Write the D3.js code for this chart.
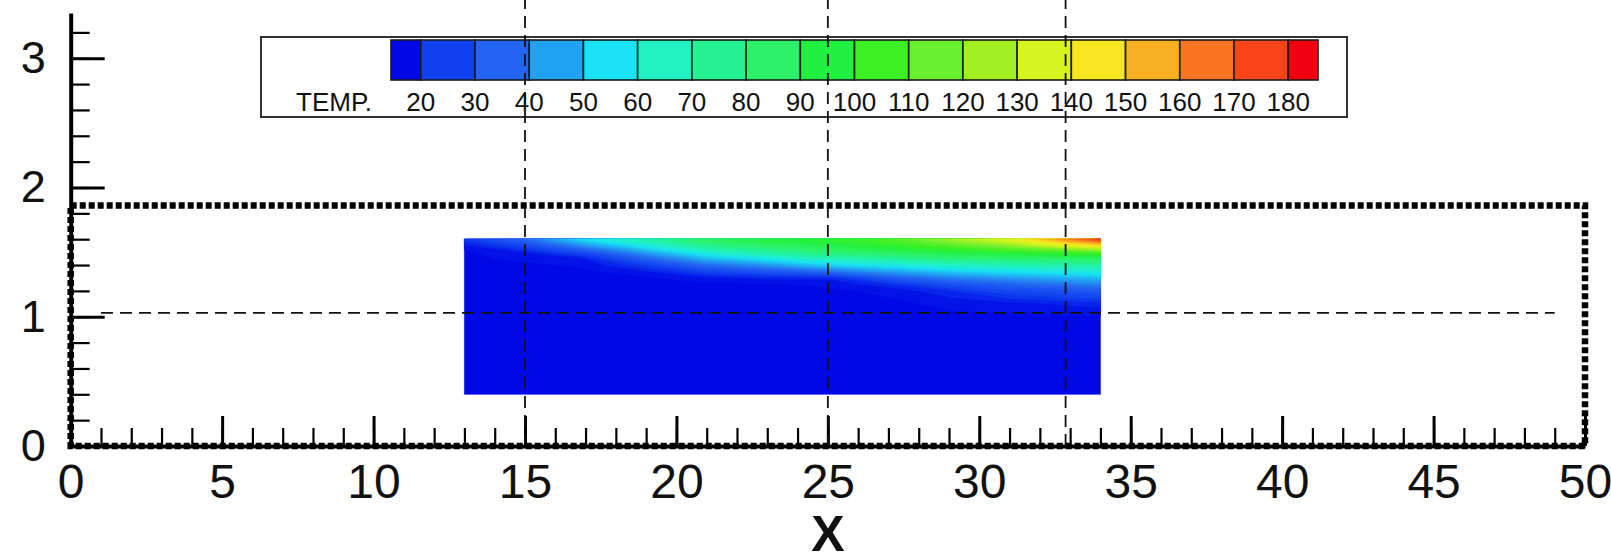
<!DOCTYPE html>
<html>
<head>
<meta charset="utf-8">
<script src="https://cdn.jsdelivr.net/npm/d3@7"></script>
<style>
  body { margin: 0; background: #fff; }
  svg { display: block; font-family: "Liberation Sans", Arial, sans-serif; }
</style>
</head>
<body>
<div id="chart"></div>
<script>
// chart size
const width = 1611
const height = 555

// temperature field: grid columns (X) and rows (Y)
const gridX = [13, 15, 17, 19, 21, 23, 25, 27, 29, 31, 33, 34]
const gridY = [0.4, 1.0, 1.1, 1.2, 1.25, 1.3, 1.35, 1.4, 1.45, 1.5, 1.55, 1.6]

const tempRows = [
  [17, 17, 17, 17, 17, 17, 17, 17, 17, 17, 17, 17],
  [17, 17, 17, 17, 17, 17, 17, 17, 17, 17, 17, 17],
  [17, 17, 17, 17, 17, 17, 17, 17, 18, 19, 20.5, 21],
  [17, 17, 17, 17, 17, 17, 17, 18, 22, 27, 30, 32],
  [17, 17, 17, 17, 17, 17, 18, 21.5, 29, 34, 38, 40],
  [17, 17, 17, 17, 19, 20.5, 20.5, 31, 39, 43, 47, 49],
  [17, 17, 17, 19.5, 26, 30, 36, 44, 51, 55, 58, 60],
  [17, 17, 18, 25, 36, 43, 52, 58, 64, 67, 70, 72],
  [17, 18, 20, 34, 48, 57, 66, 72, 80, 83, 85, 87],
  [17, 20, 29, 45, 62, 72, 82, 88, 95, 100, 106, 110],
  [19, 27, 42, 58, 76, 85, 92, 100, 110, 121, 138, 145],
  [24, 36, 56, 71, 88, 95, 100, 110, 124, 139, 163, 176]
]

// legend
const legendTitle = "TEMP."
const legendLevels = [20, 30, 40, 50, 60, 70, 80, 90, 100, 110, 120, 130, 140, 150, 160, 170, 180]
const legendRange = [14.5, 185.5]
const legendColors = ["#0008e6", "#1040f0", "#2464f2", "#22a2f2", "#18e2f4", "#22f2c2",
  "#24f292", "#2cf26a", "#22f040", "#3cf024", "#68f030", "#a2f024", "#d6f420",
  "#f8e620", "#f8b022", "#f87420", "#f84418", "#f00010"]

// axes
const xTickValues = [0, 5, 10, 15, 20, 25, 30, 35, 40, 45, 50]
const yTickValues = [0, 1, 2, 3]
const xTitle = "X"

// reference geometry drawn over the plot
const boxX = [0, 50]
const boxY = [0, 1.86]
const vLinesX = [15, 25, 32.85]
const hLineY = 1.03
const hLineX = [1, 49]

const svg = d3.select("#chart")
  .append("svg")
  .attr("width", width)
  .attr("height", height)

const x = d3.scaleLinear().domain([0, 50]).range([70.7, 1585])
const y = d3.scaleLinear().domain([0, 3.35]).range([446, 13])

// ---- flood contours ----
const nx = gridX.length
const ny = gridY.length
const values = tempRows.flat()

// grid index space -> data space (samples sit at cell centres)
const gx = d3.scaleLinear()
  .domain([0, ...d3.range(nx).map(i => i + 0.5), nx])
  .range([gridX[0], ...gridX, gridX[nx - 1]])
const gy = d3.scaleLinear()
  .domain([0, ...d3.range(ny).map(j => j + 0.5), ny])
  .range([gridY[0], ...gridY, gridY[ny - 1]])

const proj = d3.geoTransform({
  point: function(px, py) {
    this.stream.point(x(gx(px)), y(gy(py)))
  }
})
const path = d3.geoPath(proj)

const cellCenters = [(legendRange[0] + legendLevels[0]) / 2]
  .concat(legendLevels.slice(0, -1).map(v => v + 5))
  .concat([(legendLevels[legendLevels.length - 1] + legendRange[1]) / 2])

const colour = d3.scaleLinear()
  .domain(cellCenters)
  .range(legendColors)
  .interpolate(d3.interpolateRgb)
  .clamp(true)

const step = 2.5
const thresholds = d3.range(15, 185.1, step)
const bands = d3.contours().size([nx, ny]).thresholds(thresholds)(values)

svg.append("g")
  .selectAll("path")
  .data(bands)
  .join("path")
  .attr("d", path)
  .attr("fill", d => colour(d.value + step / 2))
  .attr("stroke", d => colour(d.value + step / 2))
  .attr("stroke-width", 0.6)

// ---- dotted box ----
svg.append("rect")
  .attr("x", x(boxX[0]))
  .attr("y", y(boxY[1]))
  .attr("width", x(boxX[1]) - x(boxX[0]))
  .attr("height", y(boxY[0]) - y(boxY[1]))
  .attr("fill", "none")
  .attr("stroke", "#000")
  .attr("stroke-width", 6.5)
  .attr("stroke-dasharray", "6,3")

// ---- axes ----
const fontTick = 48

const xMinor = svg.append("g")
  .attr("transform", `translate(0,${y(0)})`)
  .call(d3.axisBottom(x).tickValues(d3.range(0, 51, 1)).tickSize(-18).tickFormat(""))
xMinor.select(".domain").remove()
xMinor.selectAll(".tick line").attr("stroke", "#000").attr("stroke-width", 2.2)

const xMajor = svg.append("g")
  .attr("transform", `translate(0,${y(0)})`)
  .call(d3.axisBottom(x).tickValues(xTickValues).tickSize(-30).tickSizeOuter(0).tickPadding(18))
xMajor.select(".domain").attr("stroke", "#000").attr("stroke-width", 4)
xMajor.selectAll(".tick line").attr("stroke", "#000").attr("stroke-width", 3)
xMajor.selectAll(".tick text")
  .attr("fill", "#111")
  .style("font-size", fontTick + "px")
  .style("font-family", "'Liberation Sans', Arial, sans-serif")

const yMinor = svg.append("g")
  .attr("transform", `translate(${x(0)},0)`)
  .call(d3.axisLeft(y).tickValues(d3.range(0, 3.21, 0.2)).tickSize(-19).tickFormat(""))
yMinor.select(".domain").remove()
yMinor.selectAll(".tick line").attr("stroke", "#000").attr("stroke-width", 2.2)

const yMajor = svg.append("g")
  .attr("transform", `translate(${x(0)},0)`)
  .call(d3.axisLeft(y).tickValues(yTickValues).tickFormat(d3.format("d"))
    .tickSize(-34).tickSizeOuter(0).tickPadding(25))
yMajor.select(".domain").attr("stroke", "#000").attr("stroke-width", 4)
yMajor.selectAll(".tick line").attr("stroke", "#000").attr("stroke-width", 3)
yMajor.selectAll(".tick text")
  .attr("fill", "#111")
  .style("font-size", "45px")
  .style("font-family", "'Liberation Sans', Arial, sans-serif")

svg.append("text")
  .attr("x", x(25))
  .attr("y", 551)
  .attr("text-anchor", "middle")
  .attr("font-weight", "bold")
  .attr("font-size", 50)
  .attr("fill", "#111")
  .text(xTitle)

// ---- legend ----
const legend = svg.append("g")

legend.append("rect")
  .attr("x", 261)
  .attr("y", 37)
  .attr("width", 1347 - 261)
  .attr("height", 117 - 37)
  .attr("fill", "#fff")
  .attr("stroke", "#333")
  .attr("stroke-width", 2)

const lx = d3.scaleLinear().domain(legendRange).range([391, 1318])
const bounds = [legendRange[0], ...legendLevels, legendRange[1]]

legend.selectAll(".cell")
  .data(legendColors)
  .join("rect")
  .attr("class", "cell")
  .attr("x", (d, i) => lx(bounds[i]))
  .attr("y", 40)
  .attr("width", (d, i) => lx(bounds[i + 1]) - lx(bounds[i]))
  .attr("height", 40)
  .attr("fill", d => d)
  .attr("stroke", "#1a1a1a")
  .attr("stroke-width", 1.6)

legend.selectAll(".lab")
  .data(legendLevels)
  .join("text")
  .attr("class", "lab")
  .attr("x", d => lx(d))
  .attr("y", 111)
  .attr("text-anchor", "middle")
  .attr("font-size", 26)
  .attr("fill", "#111")
  .text(d => d)

legend.append("text")
  .attr("x", 296)
  .attr("y", 111)
  .attr("font-size", 26)
  .attr("fill", "#111")
  .text(legendTitle)

// ---- dashed reference lines ----
svg.append("g")
  .selectAll("line")
  .data(vLinesX)
  .join("line")
  .attr("x1", d => x(d))
  .attr("x2", d => x(d))
  .attr("y1", y(0))
  .attr("y2", 0)
  .attr("stroke", "#111")
  .attr("stroke-width", 1.8)
  .attr("stroke-dasharray", "12,7")

svg.append("line")
  .attr("x1", x(hLineX[0]))
  .attr("x2", x(hLineX[1]))
  .attr("y1", y(hLineY))
  .attr("y2", y(hLineY))
  .attr("stroke", "#111")
  .attr("stroke-width", 1.8)
  .attr("stroke-dasharray", "12,7")
</script>
</body>
</html>
